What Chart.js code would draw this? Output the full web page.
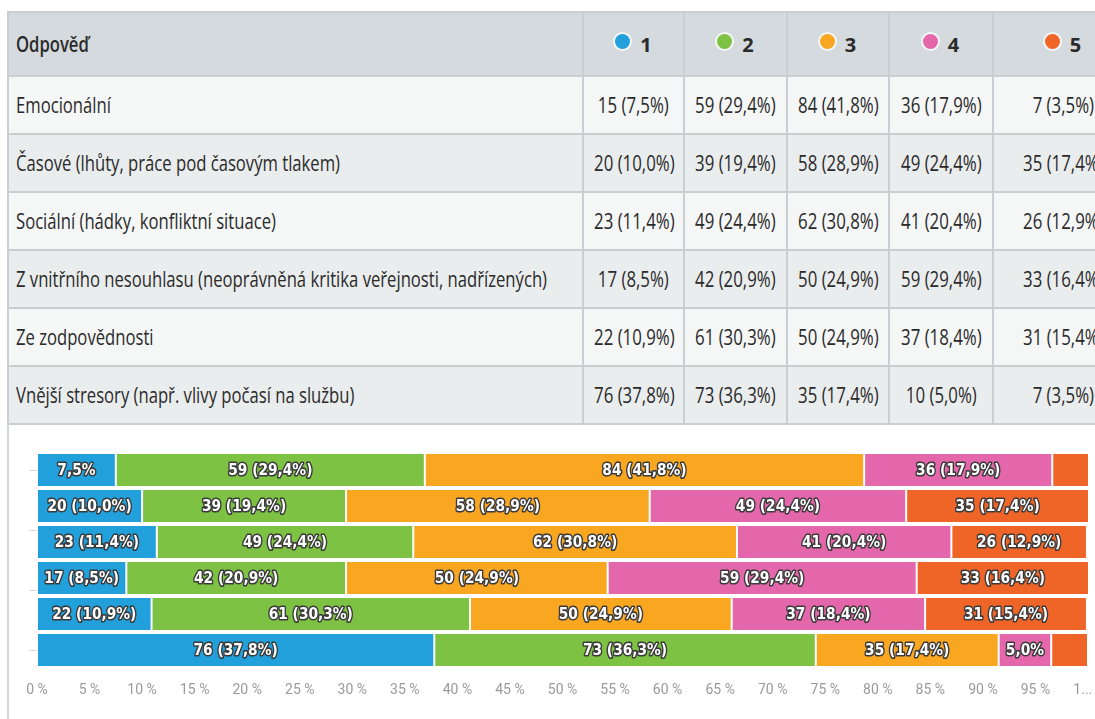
<!DOCTYPE html>
<html><head><meta charset="utf-8">
<script src="https://cdn.jsdelivr.net/npm/chart.js@4.4.1/dist/chart.umd.min.js"></script>
<style>
html,body{margin:0;padding:0;background:#fff;overflow:hidden;width:1095px;height:719px;}
#wrap{position:absolute;left:0;top:0;width:1095px;height:719px;overflow:hidden;}
table{position:absolute;left:7px;top:11px;width:1125px;border-collapse:collapse;table-layout:fixed;
  font-family:'Open Sans','Noto Sans',sans-serif;font-size:21px;color:#2a2a2a;}
td,th{border:2px solid #c8ced1;padding:0;white-space:nowrap;overflow:hidden;}
th{background:#d4dadd;font-weight:normal;height:62px;}
td{height:56px;}
tr.odd td{background:#f5f6f6;}
tr.even td{background:#eaeded;}
.lab{text-align:left;padding-left:7px;}
.val{text-align:center;}
th.lab{font-weight:600;}
th.val{font-weight:bold;font-size:20px;}
.t{display:inline-block;transform-origin:0 50%;}
.v{display:inline-block;transform-origin:50% 50%;}
.dot{display:inline-block;width:15px;height:15px;border-radius:50%;margin-right:10px;position:relative;top:-5px;box-shadow:0 0 0 2px rgba(255,255,255,0.75);vertical-align:middle;}
#cbox{position:absolute;left:0;top:425px;width:1095px;height:294px;}
#vline{position:absolute;left:7px;top:423px;width:2px;height:296px;background:#d3d6d8;}
</style></head>
<body><div id="wrap">
<table id="tbl"><colgroup><col style="width:575px"><col style="width:101px"><col style="width:103px"><col style="width:102px"><col style="width:104px"><col style="width:140px"></colgroup>
<thead><tr id="hrow"></tr></thead><tbody id="tbody"></tbody></table>
<div id="vline"></div>
<div id="cbox"><canvas id="c" width="1095" height="294"></canvas></div>
</div>
<script>
const headerLabel = 'Odpověď';
const categories = [
  'Emocionální',
  'Časové (lhůty, práce pod časovým tlakem)',
  'Sociální (hádky, konfliktní situace)',
  'Z vnitřního nesouhlasu (neoprávněná kritika veřejnosti, nadřízených)',
  'Ze zodpovědnosti',
  'Vnější stresory (např. vlivy počasí na službu)'
];
const seriesNames = ['1','2','3','4','5'];
const seriesColors = ['#22a0db','#7dc242','#f9a621','#e466ab','#ef6527'];

const count1 = [15,20,23,17,22,76];
const count2 = [59,39,49,42,61,73];
const count3 = [84,58,62,50,50,35];
const count4 = [36,49,41,59,37,10];
const count5 = [7,35,26,33,31,7];

const pct1 = [7.5,10.0,11.4,8.5,10.9,37.8];
const pct2 = [29.4,19.4,24.4,20.9,30.3,36.3];
const pct3 = [41.8,28.9,30.8,24.9,24.9,17.4];
const pct4 = [17.9,24.4,20.4,29.4,18.4,5.0];
const pct5 = [3.5,17.4,12.9,16.4,15.4,3.5];

const xTickValues = [0,5,10,15,20,25,30,35,40,45,50,55,60,65,70,75,80,85,90,95,100];

const counts = [count1,count2,count3,count4,count5];
const pcts = [pct1,pct2,pct3,pct4,pct5];
const fmtP = p => p.toFixed(1).replace('.',',') + '%';
const fmtFull = (n,p) => n + ' (' + fmtP(p) + ')';

// table
const hrow = document.getElementById('hrow');
let h = '<th class="lab"><span class="t">' + headerLabel + '</span></th>';
seriesNames.forEach((s,i)=>{ h += '<th class="val"><span class="dot" style="background:'+seriesColors[i]+'"></span>'+s+'</th>'; });
hrow.innerHTML = h;
const tb = document.getElementById('tbody');
categories.forEach((c,r)=>{
  const tr = document.createElement('tr');
  tr.className = (r%2===0)?'odd':'even';
  let s = '<td class="lab"><span class="t">'+c+'</span></td>';
  for(let k=0;k<5;k++) s += '<td class="val"><span class="v">'+fmtFull(counts[k][r], pcts[k][r])+'</span></td>';
  tr.innerHTML = s;
  tb.appendChild(tr);
});
// condense text horizontally to match the narrow face of the original
const labSpans = document.querySelectorAll('td .t');
const longest = labSpans[3].getBoundingClientRect().width;
const sL = 531 / longest;
document.querySelectorAll('.t').forEach(e=>{ e.style.transform = 'scaleX(' + sL + ')'; });
const valSpans = document.querySelectorAll('.v');
const sV = 71 / valSpans[0].getBoundingClientRect().width;
valSpans.forEach(e=>{ e.style.transform = 'scaleX(' + sV + ')'; });

const LSCALE = 0.86;
const labelPlugin = {
  id:'segLabels',
  afterDatasetsDraw(chart){
    const ctx = chart.ctx; ctx.save();
    ctx.font = 'bold 16px "DejaVu Sans", sans-serif';
    ctx.textAlign='center'; ctx.textBaseline='middle'; ctx.lineJoin='round';
    chart.data.datasets.forEach((ds,di)=>{
      const meta = chart.getDatasetMeta(di);
      meta.data.forEach((bar,i)=>{
        const w = Math.abs(bar.x - bar.base);
        const full = fmtFull(counts[di][i], pcts[di][i]);
        const short = fmtP(pcts[di][i]);
        let t = null;
        if (ctx.measureText(full).width*LSCALE + 12 < w) t = full;
        else if (ctx.measureText(short).width*LSCALE + 3 < w) t = short;
        if (!t) return;
        const cx = (bar.x + bar.base)/2;
        ctx.save();
        ctx.translate(cx, bar.y + 1);
        ctx.scale(LSCALE, 1);
        ctx.lineWidth = 3.2; ctx.strokeStyle = '#3a3a3a'; ctx.strokeText(t, 0, 0);
        ctx.fillStyle = '#ffffff'; ctx.fillText(t, 0, 0);
        ctx.restore();
      });
    });
    ctx.restore();
  }
};

new Chart(document.getElementById('c'), {
  type:'bar',
  data:{
    labels: categories,
    datasets: seriesNames.map((s,i)=>({
      label:s, data:pcts[i], backgroundColor:seriesColors[i],
      borderColor:'rgba(255,255,255,0.65)', borderWidth:1, borderSkipped:false,
      barPercentage:0.95, categoryPercentage:1
    }))
  },
  options:{
    indexAxis:'y', responsive:false, animation:false, devicePixelRatio:1,
    layout:{padding:{left:29,right:7,top:27,bottom:20}},
    plugins:{legend:{display:false}, tooltip:{enabled:false}},
    scales:{
      x:{stacked:true, min:0, max:100, position:'bottom',
        afterBuildTicks: ax => { ax.ticks = xTickValues.map(v=>({value:v})); },
        afterFit: ax => { ax.paddingLeft = 0; ax.paddingRight = 0; ax.height = 31; },
        grid:{display:false}, border:{display:false},
        ticks:{padding:6, color:'#9a9a9a', font:{family:'Roboto', size:14},
          maxRotation:0, autoSkip:false,
          callback: v => v===100 ? '1...\u00a0\u00a0\u00a0' : v + ' %'}
      },
      y:{stacked:true, display:false},
      y2:{type:'linear', position:'left', min:-0.5, max:5.5, reverse:true,
        afterBuildTicks: ax => { ax.ticks = [{value:0},{value:2.5},{value:5}]; },
        afterFit: ax => { ax.width = 8; ax.paddingTop = 0; ax.paddingBottom = 0; },
        ticks:{display:false}, border:{display:false},
        grid:{drawOnChartArea:false, tickLength:8, color:'#dcdcdc'}
      }
    }
  },
  plugins:[labelPlugin]
});
</script>
</body></html>
